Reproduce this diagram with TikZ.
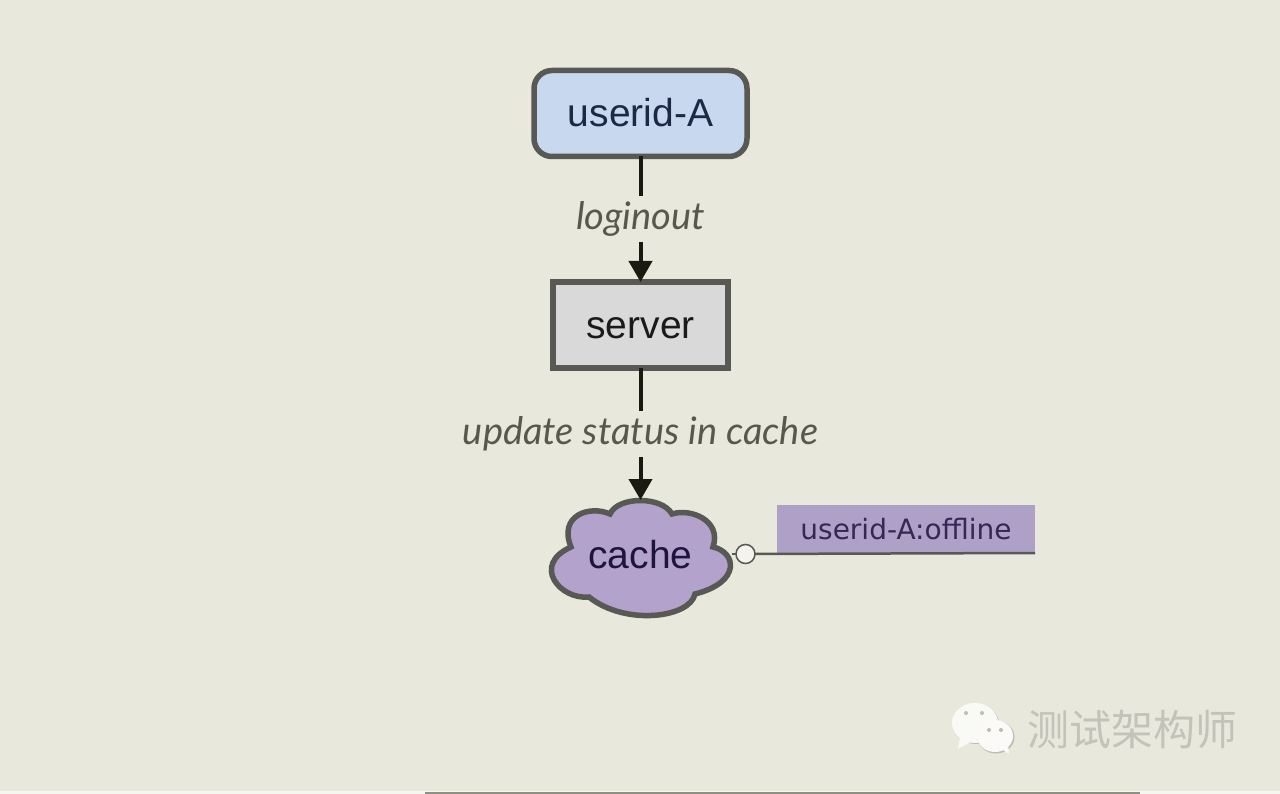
\documentclass[tikz,border=0pt]{standalone}
\usepackage{fontspec}
\setmainfont{Liberation Sans}
\newfontfamily\labelfont{Lato}
\newfontfamily\notefont{DejaVu Sans}
\newfontfamily\cjkfont{Noto Sans CJK SC}
\usetikzlibrary{arrows.meta}

\begin{document}
\begin{tikzpicture}[x=1pt,y=-1pt]
  \definecolor{kPaper}{RGB}{233,232,220}
  \definecolor{kEdge}{RGB}{88,88,84}
  \definecolor{kArrow}{RGB}{26,26,18}
  \definecolor{kBlue}{RGB}{200,216,238}
  \definecolor{kGrey}{RGB}{217,217,217}
  \definecolor{kPurple}{RGB}{178,162,204}
  \definecolor{kNote}{RGB}{175,160,200}
  \definecolor{kLabel}{RGB}{88,88,76}
  \definecolor{kMark}{RGB}{190,189,180}

  \tikzset{
    box/.style={draw=kEdge,line width=5.5pt,outer sep=0pt,inner sep=0pt,
                text height=27pt,text depth=0pt,
                font=\fontsize{39}{44}\selectfont},
    flow/.style={draw=kArrow,line width=4pt,-{Triangle[width=23pt,length=21pt]}},
    flowlabel/.style={fill=kPaper,inner sep=0pt,minimum height=46pt,text=kLabel,
                      font=\labelfont\itshape\fontsize{38}{42}\selectfont}
  }

  % background
  \fill[kPaper] (0,0) rectangle (1280,794);
  \fill[white!60!kPaper] (0,791) rectangle (1280,794);
  \fill[kMark!75!black] (425,792) rectangle (1140,794);

  % boxes
  \node[box,fill=kBlue,rounded corners=18pt,minimum width=213pt,minimum height=86pt,
        text={rgb,255:red,28;green,40;blue,68}] (useridA) at (640.5,113.5) {userid-A};
  \node[box,fill=kGrey,minimum width=175pt,minimum height=86pt,
        text={rgb,255:red,26;green,26;blue,26}] (server) at (640.5,325) {server};

  % cloud
  \draw[draw=kEdge,fill=kPurple,line width=5.5pt]
    (610,514) .. controls (618,496) and (662,496) .. (672,514)
    .. controls (690,508) and (722,520) .. (713,547)
    .. controls (736,552) and (742,582) .. (695,594)
    .. controls (690,618) and (625,626) .. (589,597)
    .. controls (560,600) and (531,565) .. (571,547)
    .. controls (558,515) and (590,505) .. (610,514) -- cycle;
  \node[minimum width=182pt,minimum height=118pt,inner sep=0pt,outer sep=0pt,
        text height=27pt,text depth=9pt,font=\fontsize{39}{44}\selectfont,
        text={rgb,255:red,30;green,20;blue,64}] (cache) at (640.5,559) {cache};

  % flows
  \draw[flow] (useridA) -- node[flowlabel] (loginout) {loginout} (server);
  \draw[flow] (server) -- node[flowlabel] (update) {update status in cache} (cache);

  % note
  \node[fill=kNote,outer sep=0pt,inner sep=0pt,minimum width=258pt,minimum height=48pt,
        text={rgb,255:red,52;green,40;blue,84},
        font=\notefont\fontsize{28}{32}\selectfont] (note) at (906,529) {userid-A:offline};
  \node[circle,draw=kEdge,fill=kPaper!50!white,line width=1.5pt,minimum size=19pt,
        inner sep=0pt,outer sep=0pt] (port) at (745.5,554) {};
  \draw[kEdge,line width=2.5pt] (cache.east |- port) -- (port);
  \draw[kEdge,line width=2.5pt] (port) -- (note.south east);

  % watermark
  \fill[kMark] (976,724) ellipse (23 and 20);
  \fill[white!75!kPaper] (975,723) ellipse (23 and 20);
  \fill[white!75!kPaper] (960,738) -- (958,749) -- (972,741) -- cycle;
  \fill[kMark] (996,737) ellipse (18.5 and 16.5);
  \fill[white!80!kPaper] (995,736) ellipse (18 and 16);
  \fill[white!80!kPaper] (1002,749) -- (1009,754) -- (1008,745) -- cycle;
  \foreach \x/\y in {966/713,982/713,989/730,1001/730}
  {
    \fill[kMark] (\x,\y) circle (2);
  }
  \node[text=kMark!85!kPaper,font=\cjkfont\fontsize{42}{46}\selectfont,inner sep=0pt] (mark) at (1132,730) {测试架构师};
\end{tikzpicture}
\end{document}
